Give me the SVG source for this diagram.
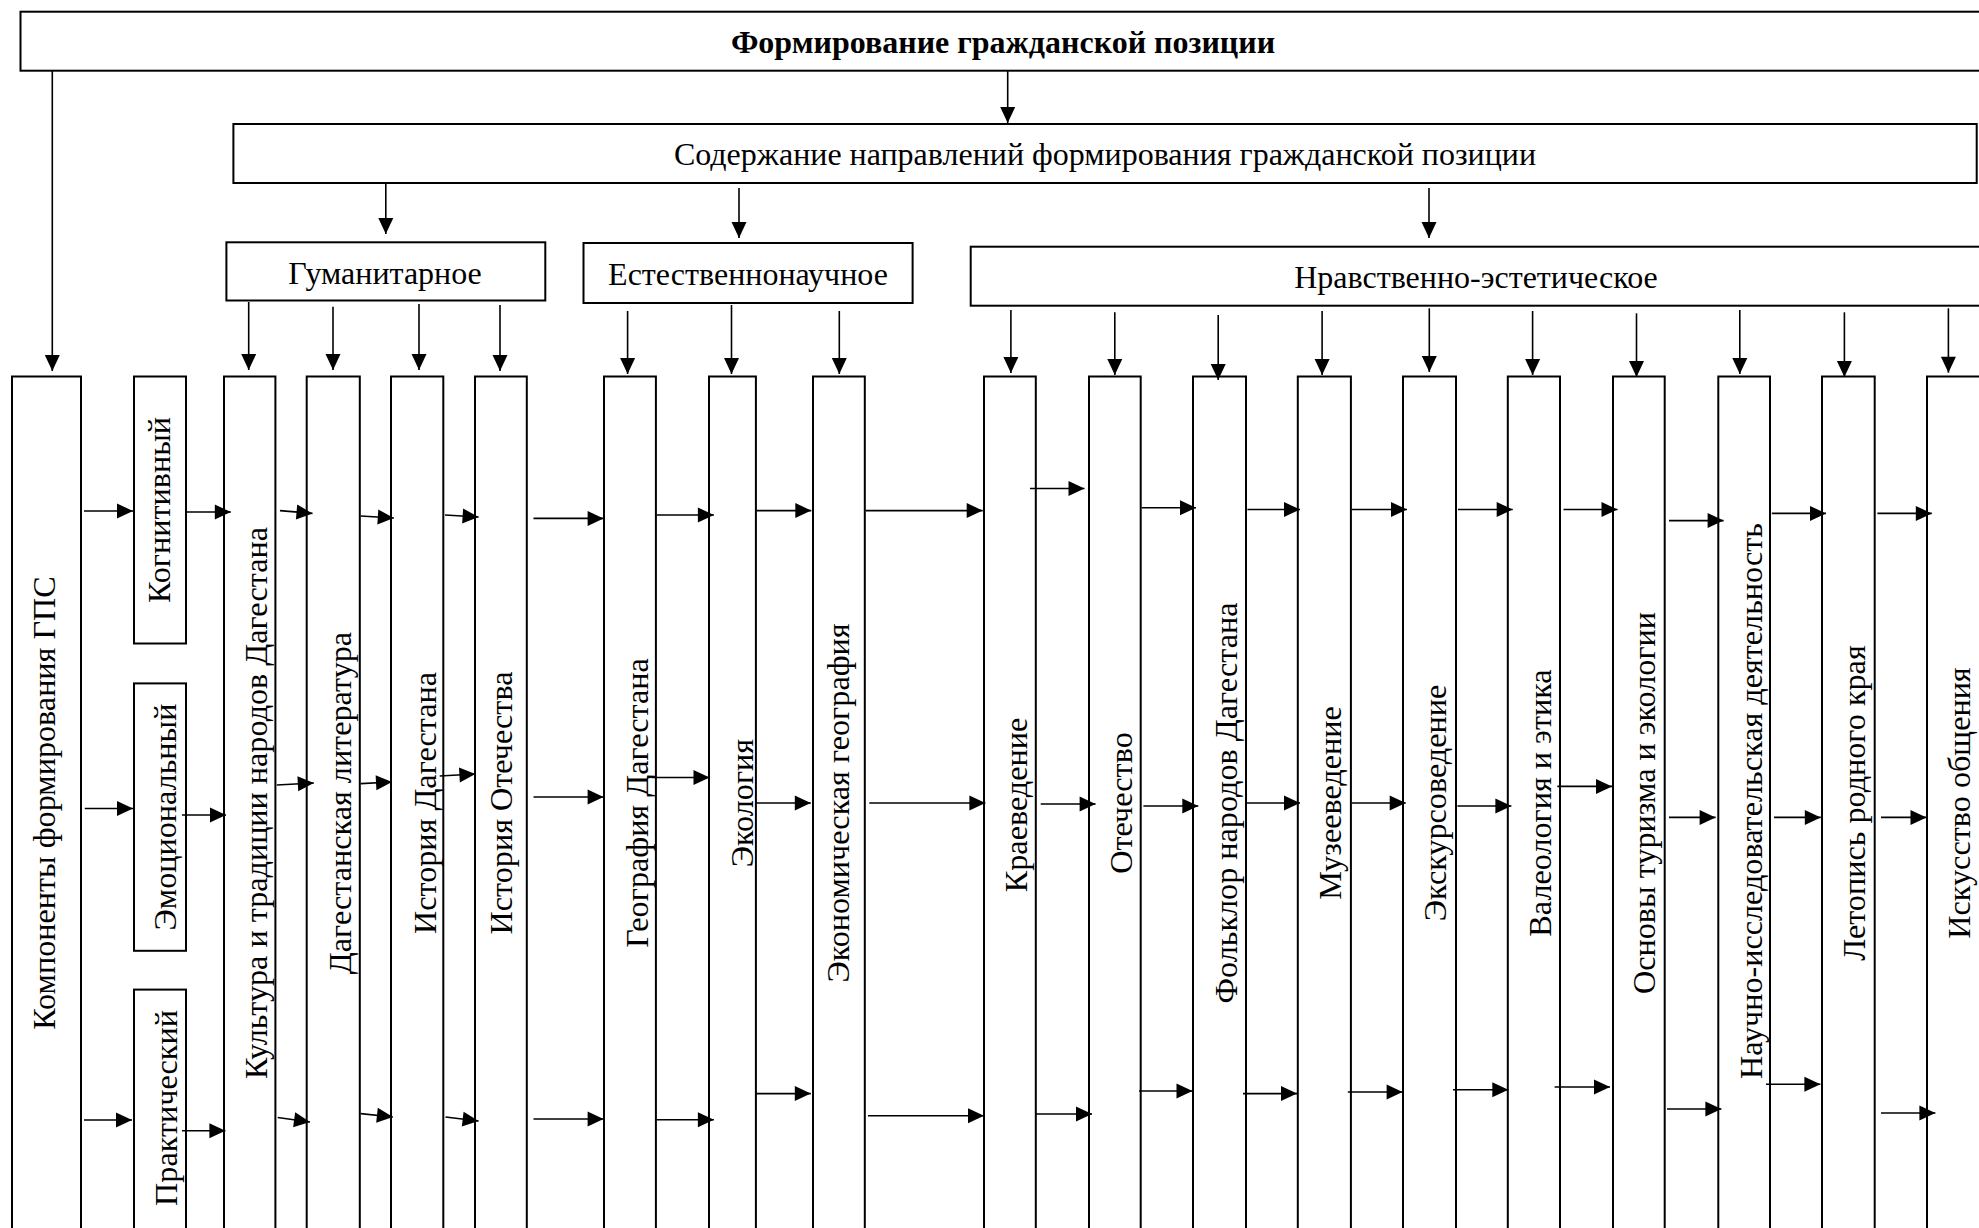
<svg xmlns="http://www.w3.org/2000/svg" width="1979" height="1228" viewBox="0 0 1979 1228">
<style>
.box{fill:#fff;stroke:#000;stroke-width:2}
.t{font-family:"Liberation Serif","Times New Roman",serif;font-size:32px;fill:#000;text-anchor:middle}
.b{font-weight:bold;font-size:32px}
.v{font-size:32.2px}
.c line{stroke:#000;stroke-width:1.6;marker-end:url(#ah)}
</style>
<defs>
<marker id="ah" markerUnits="userSpaceOnUse" markerWidth="16" markerHeight="15" refX="16" refY="7.5" orient="auto" overflow="visible">
<path d="M0,0 L16,7.5 L0,15 z" fill="#000"/>
</marker>
</defs>
<rect width="1979" height="1228" fill="#fff"/>

<g id="n-title"><rect class="box" x="20.5" y="11.7" width="2000" height="59"/><text class="t b" x="1003" y="52.5">Формирование гражданской позиции</text></g>
<g id="n-content"><rect class="box" x="233.4" y="124" width="1743.3" height="59"/><text class="t" x="1105" y="164.5">Содержание направлений формирования гражданской позиции</text></g>
<g id="n-hum"><rect class="box" x="226.4" y="242.3" width="318.9" height="58.2"/><text class="t" x="385" y="284">Гуманитарное</text></g>
<g id="n-nat"><rect class="box" x="583.5" y="243" width="329.1" height="60"/><text class="t" x="748" y="285">Естественнонаучное</text></g>
<g id="n-mor"><rect class="box" x="970.7" y="246.7" width="1050" height="59"/><text class="t" x="1476" y="287.5">Нравственно-эстетическое</text></g>

<g id="n-comp"><rect class="box" x="12" y="376.5" width="69" height="900"/><text class="t v" transform="translate(54.5,803) rotate(-90)">Компоненты формирования ГПС</text></g>
<g id="n-cog"><rect class="box" x="134" y="376.5" width="52" height="267"/><text class="t v" transform="translate(170,510) rotate(-90)">Когнитивный</text></g>
<g id="n-emo"><rect class="box" x="134" y="683.4" width="52" height="267.4"/><text class="t v" transform="translate(176,817) rotate(-90)">Эмоциональный</text></g>
<g id="n-pra"><rect class="box" x="134" y="989.6" width="52" height="300"/><text class="t v" transform="translate(176.5,1108) rotate(-90)">Практический</text></g>
<g id="n-c1"><rect class="box" x="224" y="376.5" width="51.4" height="900"/><text class="t v" transform="translate(266.5,803) rotate(-90)">Культура и традиции народов Дагестана</text></g>
<g id="n-c2"><rect class="box" x="306.7" y="376.5" width="53.1" height="900"/><text class="t v" transform="translate(351,803) rotate(-90)">Дагестанская литература</text></g>
<g id="n-c3"><rect class="box" x="391" y="376.5" width="52.3" height="900"/><text class="t v" transform="translate(436,803) rotate(-90)">История Дагестана</text></g>
<g id="n-c4"><rect class="box" x="475" y="376.5" width="51.8" height="900"/><text class="t v" transform="translate(512,803) rotate(-90)">История Отечества</text></g>
<g id="n-c5"><rect class="box" x="604" y="376.5" width="51.9" height="900"/><text class="t v" transform="translate(648,803) rotate(-90)">География Дагестана</text></g>
<g id="n-c6"><rect class="box" x="709" y="376.5" width="46.9" height="900"/><text class="t v" transform="translate(752.8,803) rotate(-90)">Экология</text></g>
<g id="n-c7"><rect class="box" x="813" y="376.5" width="51.8" height="900"/><text class="t v" transform="translate(849,803) rotate(-90)">Экономическая география</text></g>
<g id="n-c8"><rect class="box" x="984" y="376.5" width="51.8" height="900"/><text class="t v" transform="translate(1027,805) rotate(-90)">Краеведение</text></g>
<g id="n-c9"><rect class="box" x="1089" y="376.5" width="51.7" height="900"/><text class="t v" transform="translate(1132,803) rotate(-90)">Отечество</text></g>
<g id="n-c10"><rect class="box" x="1193" y="376.5" width="53" height="900"/><text class="t v" transform="translate(1237,803) rotate(-90)">Фольклор народов Дагестана</text></g>
<g id="n-c11"><rect class="box" x="1297.8" y="376.5" width="53.1" height="900"/><text class="t v" transform="translate(1341,803) rotate(-90)">Музееведение</text></g>
<g id="n-c12"><rect class="box" x="1403" y="376.5" width="53" height="900"/><text class="t v" transform="translate(1446,803) rotate(-90)">Экскурсоведение</text></g>
<g id="n-c13"><rect class="box" x="1507.8" y="376.5" width="52.2" height="900"/><text class="t v" transform="translate(1551,803) rotate(-90)">Валеология и этика</text></g>
<g id="n-c14"><rect class="box" x="1613" y="376.5" width="51.7" height="900"/><text class="t v" transform="translate(1655,803) rotate(-90)">Основы туризма и экологии</text></g>
<g id="n-c15"><rect class="box" x="1718.3" y="376.5" width="51.7" height="900"/><text class="t v" transform="translate(1762,801) rotate(-90)">Научно-исследовательская деятельность</text></g>
<g id="n-c16"><rect class="box" x="1822" y="376.5" width="52.7" height="900"/><text class="t v" transform="translate(1865,803) rotate(-90)">Летопись родного края</text></g>
<g id="n-c17"><rect class="box" x="1927" y="376.5" width="200" height="900"/><text class="t v" transform="translate(1970,803) rotate(-90)">Искусство общения</text></g>

<g id="connectors" class="c">
<line x1="52.3" y1="71" x2="52.3" y2="371"/>
<line x1="1007.7" y1="71" x2="1007.7" y2="123"/>
<line x1="385.8" y1="183" x2="385.8" y2="234"/>
<line x1="739" y1="188" x2="739" y2="238"/>
<line x1="1429" y1="188" x2="1429" y2="238"/>
<line x1="248.7" y1="302" x2="248.7" y2="370"/>
<line x1="333" y1="306.7" x2="333" y2="370"/>
<line x1="419" y1="304" x2="419" y2="370"/>
<line x1="500" y1="305" x2="500" y2="371"/>
<line x1="627.6" y1="311" x2="627.6" y2="374"/>
<line x1="731.5" y1="305" x2="731.5" y2="374"/>
<line x1="839.3" y1="311" x2="839.3" y2="374"/>
<line x1="1010.9" y1="310" x2="1010.9" y2="373"/>
<line x1="1114.8" y1="312.3" x2="1114.8" y2="375"/>
<line x1="1218.2" y1="315" x2="1218.2" y2="380"/>
<line x1="1322.1" y1="311" x2="1322.1" y2="375"/>
<line x1="1429.3" y1="308.3" x2="1429.3" y2="372"/>
<line x1="1532.6" y1="311" x2="1532.6" y2="375"/>
<line x1="1636.5" y1="313.3" x2="1636.5" y2="377"/>
<line x1="1739.8" y1="310" x2="1739.8" y2="374"/>
<line x1="1844.4" y1="312.3" x2="1844.4" y2="377"/>
<line x1="1948.4" y1="308.3" x2="1948.4" y2="372.7"/>

<line x1="84" y1="511" x2="133" y2="511"/>
<line x1="186.6" y1="512" x2="230.8" y2="512"/>
<line x1="280" y1="510.6" x2="312.5" y2="513.4"/>
<line x1="360.7" y1="516" x2="393.8" y2="518"/>
<line x1="445" y1="515" x2="478.6" y2="517"/>
<line x1="533.5" y1="518.4" x2="603.6" y2="518.4"/>
<line x1="656.8" y1="515" x2="713.9" y2="515"/>
<line x1="756.3" y1="510.6" x2="811.3" y2="510.6"/>
<line x1="865.7" y1="510.6" x2="982.7" y2="510.6"/>
<line x1="1030" y1="488.5" x2="1084.5" y2="488.5"/>
<line x1="1141.6" y1="507.8" x2="1196" y2="507.8"/>
<line x1="1247.4" y1="509.5" x2="1300" y2="509.5"/>
<line x1="1352" y1="509.5" x2="1407" y2="509.5"/>
<line x1="1458" y1="509.5" x2="1512.7" y2="509.5"/>
<line x1="1563.5" y1="509.5" x2="1617.5" y2="509.5"/>
<line x1="1669" y1="520.6" x2="1723.6" y2="520.6"/>
<line x1="1771.8" y1="513.4" x2="1826" y2="513.4"/>
<line x1="1877.4" y1="513.4" x2="1931.8" y2="513.4"/>

<line x1="84.8" y1="808.5" x2="133" y2="808.5"/>
<line x1="182" y1="815" x2="226" y2="815"/>
<line x1="276.8" y1="785" x2="313.8" y2="783"/>
<line x1="360.7" y1="783.6" x2="392" y2="782"/>
<line x1="439.7" y1="776" x2="475.4" y2="774"/>
<line x1="533.5" y1="797" x2="603.6" y2="797"/>
<line x1="651.4" y1="777.5" x2="709.5" y2="777.5"/>
<line x1="756.3" y1="803" x2="810.8" y2="803"/>
<line x1="869.3" y1="803" x2="985.4" y2="803"/>
<line x1="1040.7" y1="804" x2="1095.6" y2="804"/>
<line x1="1143.4" y1="806" x2="1198.3" y2="806"/>
<line x1="1246" y1="803" x2="1300" y2="803"/>
<line x1="1352" y1="803" x2="1405.7" y2="803"/>
<line x1="1457.4" y1="806" x2="1511.4" y2="806"/>
<line x1="1557.3" y1="786.4" x2="1612" y2="786.4"/>
<line x1="1669" y1="817.4" x2="1715.6" y2="817.4"/>
<line x1="1774" y1="817.4" x2="1820.8" y2="817.4"/>
<line x1="1881" y1="817.4" x2="1926.5" y2="817.4"/>

<line x1="84" y1="1120" x2="132" y2="1120"/>
<line x1="182" y1="1130.8" x2="225.4" y2="1130.8"/>
<line x1="277.7" y1="1117.5" x2="310" y2="1122"/>
<line x1="360.7" y1="1113.6" x2="392.9" y2="1117"/>
<line x1="445.5" y1="1117" x2="478.6" y2="1121"/>
<line x1="533.5" y1="1119" x2="603.6" y2="1119"/>
<line x1="656.8" y1="1119.7" x2="713.9" y2="1119.7"/>
<line x1="756.3" y1="1093.6" x2="810.8" y2="1093.6"/>
<line x1="868" y1="1115.8" x2="984" y2="1115.8"/>
<line x1="1036" y1="1114" x2="1092" y2="1114"/>
<line x1="1139" y1="1091" x2="1192.5" y2="1091"/>
<line x1="1243" y1="1093.6" x2="1297" y2="1093.6"/>
<line x1="1347.8" y1="1092" x2="1402.6" y2="1092"/>
<line x1="1453" y1="1089.8" x2="1508.3" y2="1089.8"/>
<line x1="1554.6" y1="1087" x2="1610" y2="1087"/>
<line x1="1667" y1="1109" x2="1721.4" y2="1109"/>
<line x1="1766" y1="1084.2" x2="1820.4" y2="1084.2"/>
<line x1="1881" y1="1113" x2="1935.4" y2="1113"/>
</g>
</svg>
